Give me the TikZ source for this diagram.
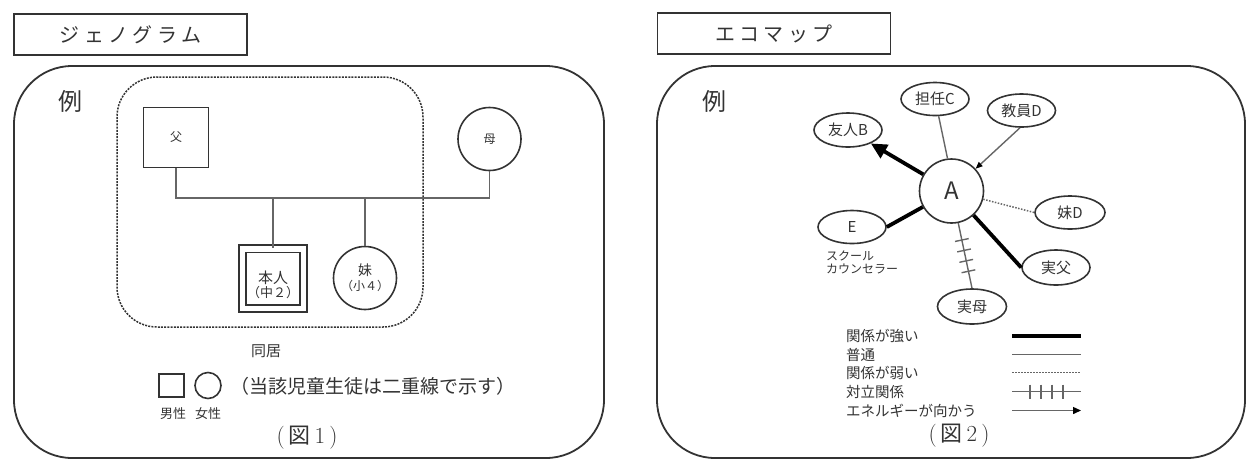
\documentclass[tikz,border=0pt]{standalone}
\usepackage{fontspec}
\newfontfamily\jp{Noto Sans CJK JP}
\newfontfamily\jpsp[LetterSpace=22]{Noto Sans CJK JP}
\usetikzlibrary{arrows.meta,decorations.markings,shapes.geometric}
\definecolor{ink}{HTML}{333333}
\definecolor{ln}{HTML}{666666}
\newcommand{\fsz}[1]{\fontsize{#1}{#1}\selectfont}
\tikzset{
  every node/.style={text=ink, inner sep=0pt},
  titlebox/.style={draw=ink, line width=1.7pt, minimum width=233pt, minimum height=41pt, font=\jpsp\fsz{20}},
  panel/.style={draw=ink, line width=1.8pt, rounded corners=58pt},
  gline/.style={draw=ln, line width=1.4pt},
  gshape/.style={draw=ink, line width=1.6pt},
  ell/.style={ellipse, draw=ink, line width=1.6pt, minimum width=68pt, minimum height=33pt, font=\jp\fsz{15}},
  strongline/.style={draw=black, line width=3.8pt},
  normalline/.style={draw=ln, line width=1.4pt},
  weakline/.style={draw=ln, line width=1.5pt, dash pattern=on 1.5pt off 1.5pt},
  tick/.style={decoration={markings,
      mark=at position 0.26 with {\draw[normalline] (0,-7) -- (0,7);},
      mark=at position 0.42 with {\draw[normalline] (0,-7) -- (0,7);},
      mark=at position 0.58 with {\draw[normalline] (0,-7) -- (0,7);},
      mark=at position 0.74 with {\draw[normalline] (0,-7) -- (0,7);}},
    postaction={decorate}},
  conflictline/.style={normalline, tick},
  legtext/.style={anchor=west, font=\jp\fsz{14.5}},
}
\begin{document}
\begin{tikzpicture}[x=1pt,y=-1pt]
\useasboundingbox (0,0) rectangle (1247,459);

% ================= LEFT: genogram =================
\node[titlebox] (t1) at (130.5,34.5) {ジェノグラム};
\draw[panel] (14,66) rectangle (604,458);
\node[font=\jp\fsz{24}] (ex1) at (70,101) {例};
\draw[draw=ink, line width=1.5pt, dash pattern=on 2pt off 1.2pt, rounded corners=40pt] (117,77) rectangle (423,327);

\node[gshape, minimum width=65pt, minimum height=60pt, font=\jp\fsz{12}] (fa) at (176,137.5) {父};
\node[gshape, circle, minimum size=63pt, font=\jp\fsz{12}] (mo) at (489.5,139) {母};
\node[draw=ink, line width=1.6pt, double, double distance=5.5pt, minimum width=61pt, minimum height=59.5pt] (self) at (273,278.5) {};
\node[font=\jp\fsz{15}, align=center] (selftxt) at (273,285) {本人\\[-1pt]{\fsz{13}（中２）}};
\node[gshape, circle, minimum size=63pt, font=\jp\fsz{14}, align=center] (sis) at (365,278) {妹\\[1pt]{\fsz{12}（小４）}};

\coordinate (bar) at (300,198);
\draw[gline] (fa.south) |- (bar) -| (mo.south);
\draw[gline] (self.north) -- (self.north |- bar);
\draw[gline] (sis.north) -- (sis.north |- bar);

\node[font=\jp\fsz{15}] (live) at (266,351) {同居};
\node[gshape, minimum width=25pt, minimum height=23pt] (lsq) at (171.5,385.5) {};
\node[gshape, circle, minimum size=26pt] (lci) at (208,385.5) {};
\node[font=\jp\fsz{19}] (note) at (372.5,386) {（当該児童生徒は二重線で示す）};
\node[font=\jp\fsz{13}] (male) at (173,414) {男性};
\node[font=\jp\fsz{13}] (female) at (208,414) {女性};
\node[font=\fsz{23}] (fig1) at (307,438) {(\hspace{4pt}{\jp\fsz{22}図}\hspace{4pt}1\hspace{4pt})};

% ================= RIGHT: ecomap =================
\node[titlebox] (t2) at (774,33.5) {エコマップ};
\draw[panel] (657,66) rectangle (1245,458);
\node[font=\jp\fsz{24}] (ex2) at (714,101) {例};

\node[circle, draw=ink, line width=1.6pt, minimum size=64pt, font=\jp\fsz{24}] (A) at (951.5,191) {A};
\node[ell] (tanC) at (935,99) {担任C};
\node[ell] (kyoD) at (1021.5,110.5) {教員D};
\node[ell, minimum height=34pt] (yuB) at (848,130) {友人B};
\node[ell, minimum width=70pt] (imD) at (1070,212.5) {妹D};
\node[ell] (E) at (852,227) {E};
\node[ell, minimum height=35pt] (jF) at (1056,267.5) {実父};
\node[ell, minimum width=69pt, minimum height=35pt] (jM) at (972,306.5) {実母};
\node[anchor=north west, align=left, font=\jp\fsz{12}] (sc) at (826,251) {スクール\\[1pt]カウンセラー};

\draw[normalline] (A.97) -- (tanC.-78);
\draw[normalline, -{Triangle[length=7pt,width=5.5pt,color=black]}] (kyoD.-95) -- (A);
\draw[strongline, -{Triangle[length=16pt,width=15pt]}] (A) -- (yuB);
\draw[weakline] (A) -- (imD.west);
\draw[strongline] (A) -- (E.east);
\draw[strongline] (A) -- (jF.west);
\draw[conflictline] (A) -- (jM.north);

% legend
\node[legtext] (lg1) at (846,336) {関係が強い};
\node[legtext] (lg2) at (846,354.5) {普通};
\node[legtext] (lg3) at (846,373) {関係が弱い};
\node[legtext] (lg4) at (846,391.5) {対立関係};
\node[legtext] (lg5) at (846,410.5) {エネルギーが向かう};
\coordinate (a1) at (1012,336);   \coordinate (b1) at (1081,336);
\coordinate (a2) at (1012,354.5); \coordinate (b2) at (1081,354.5);
\coordinate (a3) at (1012,372.5); \coordinate (b3) at (1081,372.5);
\coordinate (a4) at (1012,391.5); \coordinate (b4) at (1081,391.5);
\coordinate (a5) at (1012,410.5); \coordinate (b5) at (1081,410.5);
\draw[strongline, line width=4.2pt] (a1) -- (b1);
\draw[normalline] (a2) -- (b2);
\draw[weakline] (a3) -- (b3);
\draw[conflictline] (a4) -- (b4);
\draw[normalline, -{Triangle[length=8pt,width=7pt,color=black]}] (a5) -- (b5);

\node[font=\fsz{23}] (fig2) at (959,436) {(\hspace{4pt}{\jp\fsz{22}図}\hspace{4pt}2\hspace{4pt})};
\end{tikzpicture}
\end{document}
